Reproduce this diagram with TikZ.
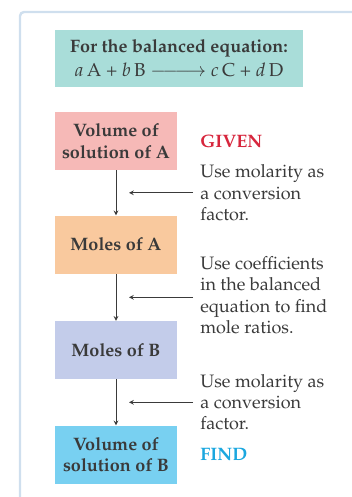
\documentclass[tikz,border=0pt]{standalone}
\usepackage[T1]{fontenc}
\usepackage{mathpazo}
\usetikzlibrary{positioning, arrows, calc}
\tikzset{>=stealth}

\definecolor{framegray}{HTML}{CFDFEE}
\definecolor{inkgray}{HTML}{3A3A3A}
\definecolor{eqteal}{HTML}{A9DDD9}
\definecolor{volApink}{HTML}{F6B9B7}
\definecolor{molAorange}{HTML}{F9C99E}
\definecolor{molBlav}{HTML}{C3CCEA}
\definecolor{volBcyan}{HTML}{78D0F1}
\definecolor{givenred}{HTML}{D7263D}
\definecolor{findblue}{HTML}{1BA7DF}

\begin{document}
\begin{tikzpicture}[
    x=0.75pt, y=-0.75pt,
    font=\fontsize{13}{16}\selectfont,
    box/.style={align=center, minimum width=91.5pt, minimum height=43.5pt,
                inner sep=2pt, text=inkgray,
                font=\fontsize{13.5}{16}\selectfont\bfseries},
    flow/.style={->, semithick, inkgray},
    note/.style={anchor=west, align=left, inner xsep=5.25pt, inner ysep=0pt,
                 text=inkgray, font=\fontsize{13.5}{16}\selectfont},
  ]
  \useasboundingbox (0,0) rectangle (352,497);
  \draw[framegray, line width=1.8pt, rounded corners=3pt] (20,520) -- (20,12) -- (370,12);

  \node[box, fill=eqteal, minimum width=186pt, minimum height=42.75pt,
        font=\fontsize{14}{16.5}\selectfont] (eq) at (179,58.5)
        {{\fontsize{13.5}{16}\selectfont\bfseries For the balanced equation:}\\[1.5pt]
         $a$\,A + $b$\,B $\relbar\joinrel\relbar\joinrel\longrightarrow$ $c$\,C + $d$\,D};

  \node[box, fill=volApink] (volA) at (116,141) {Volume of\\solution of A};
  \node[box, fill=molAorange, below=33.75pt of volA] (molA) {Moles of A};
  \node[box, fill=molBlav, below=35.25pt of molA] (molB) {Moles of B};
  \node[box, fill=volBcyan, below=34.5pt of molB] (volB) {Volume of\\solution of B};

  \draw[flow] (volA) -- (molA);
  \draw[flow] (molA) -- (molB);
  \draw[flow] (molB) -- (volB);

  % midpoints of the steps
  \coordinate (c1) at ($(volA.south)!0.5!(molA.north)$);
  \coordinate (c2) at ($(molA.south)!0.5!(molB.north)$);
  \coordinate (c3) at ($(molB.south)!0.5!(volB.north)$);
  \coordinate (p1) at ($(c1)+(13,0)$);
  \coordinate (p2) at ($(c2)+(13,0)$);
  \coordinate (p3) at ($(c3)+(13,0)$);

  \node[note] (n1) at ($(c1)+(77,0)$) {Use molarity as\\a conversion\\factor.};
  \node[note] (n2) at ($(c2)+(77,-2)$) {Use coefficients\\in the balanced\\equation to find\\mole ratios.};
  \node[note] (n3) at ($(c3)+(77,0)$) {Use molarity as\\a conversion\\factor.};

  \draw[flow] (n1) -- (p1);
  \draw[flow] (n2.west |- p2) -- (p2);
  \draw[flow] (n3) -- (p3);

  \node[note, text=givenred, font=\fontsize{13.5}{16}\selectfont\bfseries] (given) at (volA.east -| n1.west) {GIVEN};
  \node[note, text=findblue, font=\fontsize{13.5}{16}\selectfont\bfseries] (find) at (volB.east -| n3.west) {FIND};
\end{tikzpicture}
\end{document}
